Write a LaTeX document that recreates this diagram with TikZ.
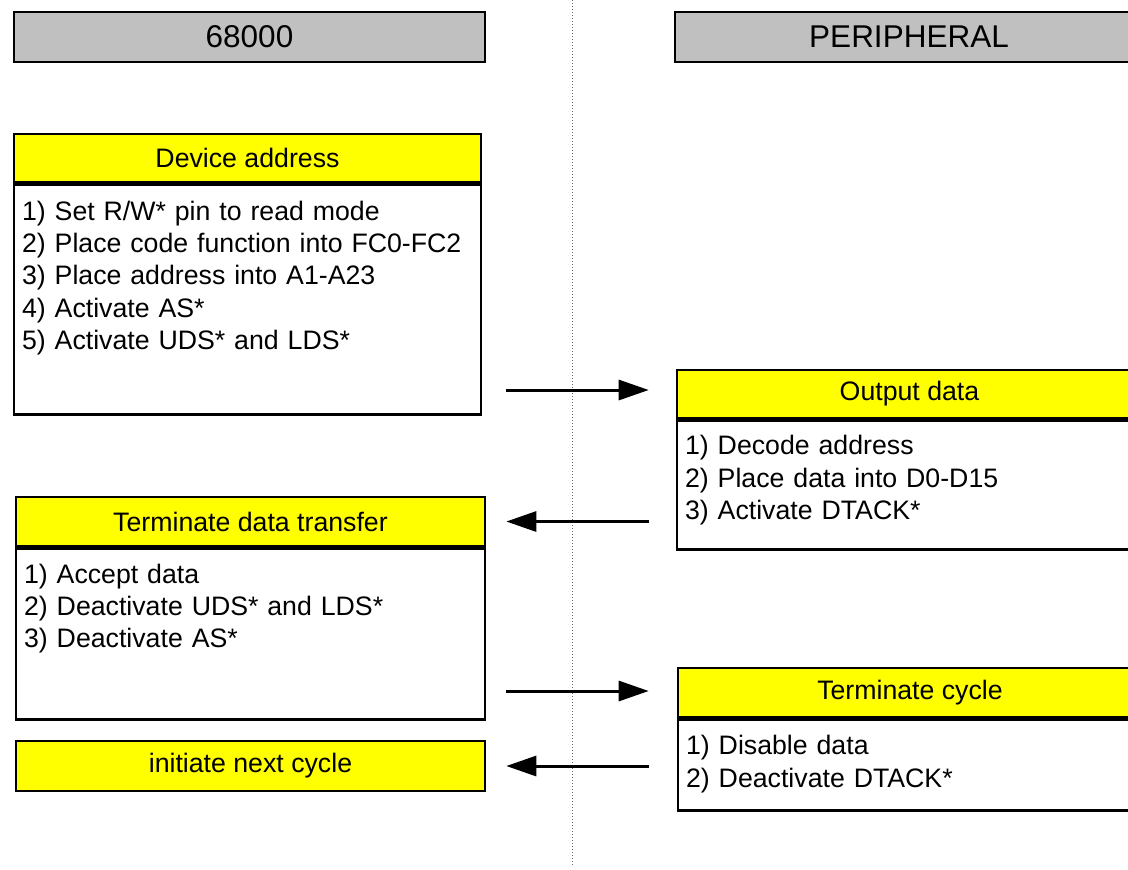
\documentclass[tikz,border=0pt]{standalone}
\usepackage{fontspec}
\setmainfont{Liberation Sans}
\usetikzlibrary{arrows.meta,calc}
\definecolor{hdrgray}{HTML}{C0C0C0}
\definecolor{ttlyellow}{HTML}{FFFF00}
\newcommand{\bodyfnt}{\fontsize{13.35pt}{16.15pt}\selectfont}
\newcommand{\hdrfnt}{\fontsize{15.75pt}{18pt}\selectfont}
\begin{document}
\begin{tikzpicture}[x=0.5pt,y=-0.5pt,
  hdrbox/.style={draw=black, line width=1.2pt, fill=hdrgray, inner sep=0pt, font=\hdrfnt},
  ttlbox/.style={draw=black, line width=1.3pt, fill=ttlyellow, inner sep=0pt, font=\bodyfnt},
  bodybox/.style={draw=black, line width=1.3pt, fill=white, inner sep=0pt, anchor=north},
  bodytxt/.style={anchor=base west, inner sep=0pt, text width=225pt, align=left, font=\bodyfnt},
  arr/.style={line width=1.5pt, -{Triangle[length=15pt,width=10pt]}},
  divider/.style={draw=black!60, line width=0.5pt, dash pattern=on 0.5pt off 1pt}
]
\useasboundingbox (0,0) rectangle (1128,869);
\fill[white] (0,0) rectangle (1128,869);

% divider
\coordinate (dtop) at (572,0);
\coordinate (dbot) at (572,866);
\draw[divider] (dtop) -- (dbot);

% column headers
\node[hdrbox, minimum width=235.5pt, minimum height=25pt] (hcpu) at (249.5,37) {68000};
\node[hdrbox, minimum width=234pt, minimum height=25pt] (hper) at (909,37) {PERIPHERAL};

% Device address
\node[ttlbox, minimum width=233.5pt, minimum height=24pt] (devt) at (247.5,158) {Device address};
\node[bodybox, minimum width=233.5pt, minimum height=115pt] (devb) at (devt.south) {};
\node[bodytxt] at ($(devb.north west)+(9,37)$) {1) Set R/W* pin to read mode\\2) Place code function into FC0-FC2\\3) Place address into A1-A23\\4) Activate AS*\\5) Activate UDS* and LDS*};

% Output data
\node[ttlbox, minimum width=232.5pt, minimum height=24pt] (outt) at (909.5,394) {Output data};
\node[bodybox, minimum width=232.5pt, minimum height=64.5pt] (outb) at (outt.south) {};
\node[bodytxt] at ($(outb.north west)+(9,35.5)$) {1) Decode address\\2) Place data into D0-D15\\3) Activate DTACK*};

% Terminate data transfer
\node[ttlbox, minimum width=234.5pt, minimum height=24.5pt] (tdtt) at (250.5,521.5) {Terminate data transfer};
\node[bodybox, minimum width=234.5pt, minimum height=85.5pt] (tdtb) at (tdtt.south) {};
\node[bodytxt] at ($(tdtb.north west)+(9,36)$) {1) Accept data\\2) Deactivate UDS* and LDS*\\3) Deactivate AS*};

% Terminate cycle
\node[ttlbox, minimum width=232pt, minimum height=24.5pt] (tct) at (910,692.5) {Terminate cycle};
\node[bodybox, minimum width=232pt, minimum height=45.5pt] (tcb) at (tct.south) {};
\node[bodytxt] at ($(tcb.north west)+(9,36.5)$) {1) Disable data\\2) Deactivate DTACK*};

% initiate next cycle
\node[ttlbox, minimum width=234.5pt, minimum height=25pt] (inc) at (250.5,766) {initiate next cycle};

% arrows
\draw[arr] ($(devb.east |- outt.center)+(24,-4)$) -- ($(outt.west)+(-27,-4)$);
\draw[arr] ($(outb.west |- tdtt.center)+(-27,0)$) -- ($(tdtt.east)+(20,0)$);
\draw[arr] ($(tdtb.east |- tct.center)+(20,-1.5)$) -- ($(tct.west)+(-28,-1.5)$);
\draw[arr] ($(tcb.west |- inc.center)+(-28,0)$) -- ($(inc.east)+(20,0)$);
\end{tikzpicture}
\end{document}
